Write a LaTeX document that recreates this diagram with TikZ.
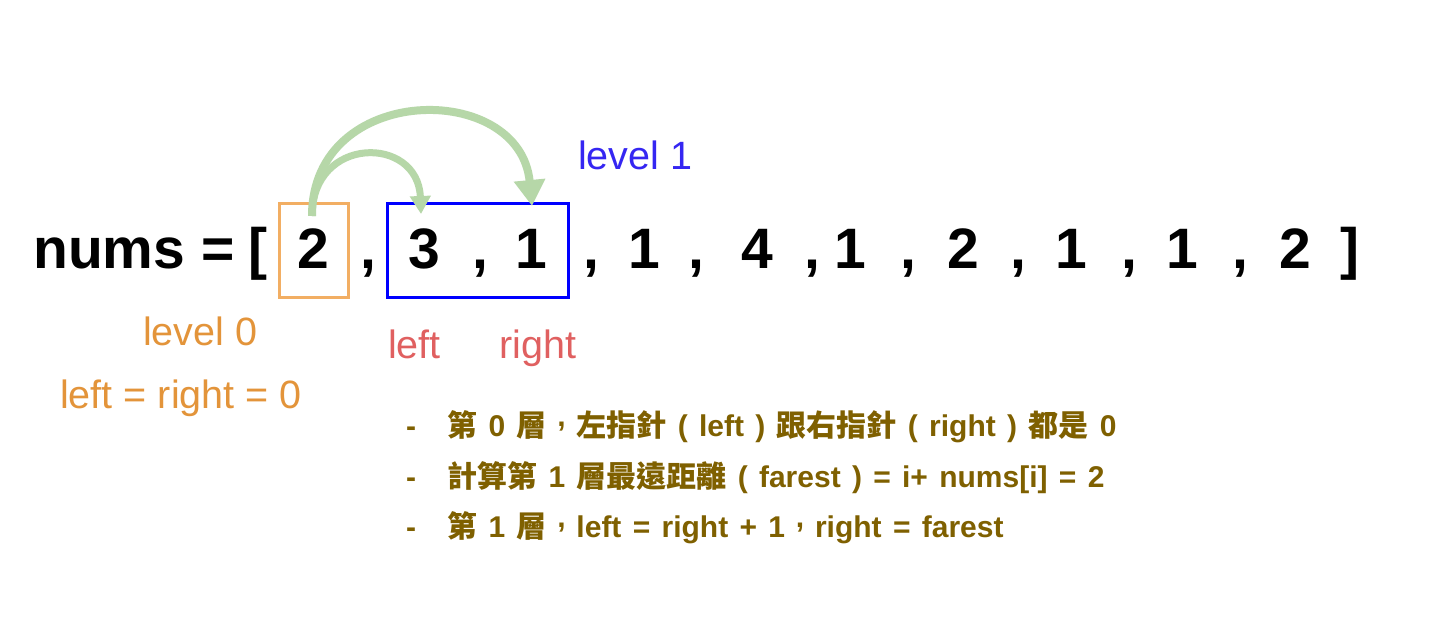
\documentclass[tikz,border=0pt]{standalone}
\usepackage{fontspec}
\setmainfont{Liberation Sans}
\newfontfamily\cjk{Noto Sans CJK TC}
\newcommand\zh[1]{{\cjk #1}}
\newcommand\tcm{\makebox[1em][c]{\raisebox{0.33em}{,}}}
\usetikzlibrary{arrows.meta}
\definecolor{txtolive}{HTML}{7F6000}
\definecolor{boxorange}{HTML}{F2AE63}
\definecolor{lvlorange}{HTML}{E3943A}
\definecolor{lvlblue}{HTML}{3526F2}
\definecolor{ptrred}{HTML}{E06060}
\definecolor{arrgreen}{HTML}{B6D7A8}
\begin{document}
\begin{tikzpicture}[x=1pt,y=-1pt,
  mainnum/.style={font=\fontsize{57}{60}\selectfont\bfseries, anchor=base, inner sep=0},
  lab/.style={font=\fontsize{39.5}{42}\selectfont, anchor=base west, inner sep=0},
  bul/.style={font=\fontsize{30}{32}\selectfont\bfseries, text=txtolive, anchor=base west, inner sep=0,
    execute at begin node={\spaceskip=11.3pt\relax}},
  frame/.style={line width=3pt, minimum height=94pt, inner sep=0},
  jump/.style={draw=arrgreen}
]
\fill[white] (0,0) rectangle (1446,637);
\useasboundingbox (0,0) rectangle (1446,637);

% boxes
\node[frame, draw=boxorange, minimum width=69pt] (box0) at (313.5,250) {};
\node[frame, draw=blue, minimum width=181pt] (box1) at (477.5,250) {};

% main row
\node[mainnum, anchor=base west] (nums) at (33,268) {nums =};
\node[mainnum] (lbr) at (258,268) {[};
\foreach \x/\d/\n in {313/2/d0, 424/3/d1, 531/1/d2, 644/1/d3, 757/4/d4, 850/1/d5, 963/2/d6, 1071/1/d7, 1182/1/d8, 1295/2/d9}
  \node[mainnum] (\n) at (\x,268) {\d};
\foreach \x [count=\i] in {368, 480, 591, 696, 812, 908, 1018, 1129, 1240}
  \node[mainnum] (c\i) at (\x,268) {,};
\node[mainnum] (rbr) at (1350,268) {]};

% jump arrows
\coordinate (src) at (312,216);
\coordinate (tgtA) at (421,214);
\coordinate (tgtB) at (532,206);
\draw[jump, line width=8pt, -{Triangle[width=30pt,length=26pt]}] (src) .. controls (312,82) and (520,80) .. (tgtB);
\draw[jump, line width=7pt, -{Triangle[width=20pt,length=18pt]}] (src) .. controls (312,135) and (418,135) .. (tgtA);

% labels
\node[lab, text=lvlblue] (lv1) at (578,169) {level 1};
\node[lab, text=lvlorange] (lv0) at (143,345) {level 0};
\node[lab, text=lvlorange] (eq0) at (60,408) {left = right = 0};
\node[lab, text=ptrred] (lft) at (388,358) {left};
\node[lab, text=ptrred] (rgt) at (499,358) {right};

% bullet lines
\node[bul] (dash1) at (406,436) {-};
\node[bul] (line1) at (447,436) {\zh{第} 0 \zh{層}\tcm\zh{左指針} ( left ) \zh{跟右指針} ( right ) \zh{都是} 0};
\node[bul] (dash2) at (406,487) {-};
\node[bul] (line2) at (447,487) {\zh{計算第} 1 \zh{層最遠距離} ( farest ) = i+ nums[i] = 2};
\node[bul] (dash3) at (406,537) {-};
\node[bul] (line3) at (447,537) {\zh{第} 1 \zh{層}\tcm left = right + 1\tcm right = farest};
\end{tikzpicture}
\end{document}
